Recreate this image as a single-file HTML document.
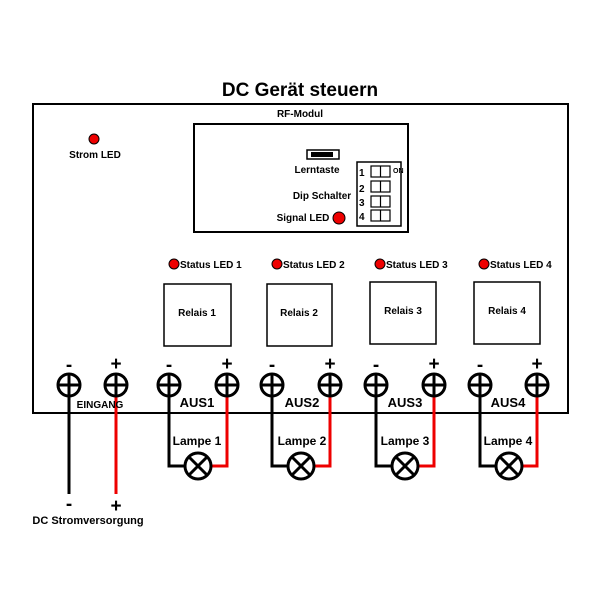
<!DOCTYPE html>
<html><head><meta charset="utf-8"><style>
body{margin:0;background:#fff}
svg text{font-family:"Liberation Sans",Arial,sans-serif;font-weight:bold;fill:#000}
</style></head><body>
<svg width="600" height="600" viewBox="0 0 600 600" xmlns="http://www.w3.org/2000/svg">
<text x="300" y="96" font-size="19" text-anchor="middle">DC Gerät steuern</text>
<rect x="33" y="104" width="535" height="309" fill="none" stroke="#000" stroke-width="2"/>
<circle cx="94" cy="139" r="5" fill="#e00" stroke="#000"/>
<text x="95" y="158" font-size="10" text-anchor="middle">Strom LED</text>
<text x="300" y="117" font-size="10" text-anchor="middle">RF-Modul</text>
<rect x="194" y="124" width="214" height="108" fill="none" stroke="#000" stroke-width="2"/>
<rect x="307" y="150" width="32" height="9" fill="none" stroke="#000" stroke-width="1.5"/>
<rect x="311" y="152" width="22" height="5" fill="#000"/>
<text x="317" y="173" font-size="10" text-anchor="middle">Lerntaste</text>
<text x="322" y="199" font-size="10" text-anchor="middle">Dip Schalter</text>
<text x="303" y="221" font-size="10" text-anchor="middle">Signal LED</text>
<circle cx="339" cy="218" r="6" fill="#e00" stroke="#000"/>
<rect x="357" y="162" width="44" height="64" fill="none" stroke="#000" stroke-width="1.5"/>
<g font-size="10"><text x="359" y="176">1</text><text x="359" y="192">2</text><text x="359" y="206">3</text><text x="359" y="220">4</text><text x="393" y="173" font-size="7">ON</text></g>
<g fill="none" stroke="#000" stroke-width="1.2">
<rect x="371" y="166" width="19" height="11"/><line x1="380.5" y1="166" x2="380.5" y2="177"/>
<rect x="371" y="181" width="19" height="11"/><line x1="380.5" y1="181" x2="380.5" y2="192"/>
<rect x="371" y="196" width="19" height="11"/><line x1="380.5" y1="196" x2="380.5" y2="207"/>
<rect x="371" y="210" width="19" height="11"/><line x1="380.5" y1="210" x2="380.5" y2="221"/>
</g>
<g font-size="10">
<circle cx="174" cy="264" r="5" fill="#e00" stroke="#000"/><text x="180" y="268">Status LED 1</text>
<circle cx="277" cy="264" r="5" fill="#e00" stroke="#000"/><text x="283" y="268">Status LED 2</text>
<circle cx="380" cy="264" r="5" fill="#e00" stroke="#000"/><text x="386" y="268">Status LED 3</text>
<circle cx="484" cy="264" r="5" fill="#e00" stroke="#000"/><text x="490" y="268">Status LED 4</text>
</g>
<g fill="none" stroke="#000" stroke-width="1.5">
<rect x="164" y="284" width="67" height="62"/>
<rect x="267" y="284" width="65" height="62"/>
<rect x="370" y="282" width="66" height="62"/>
<rect x="474" y="282" width="66" height="62"/>
</g>
<g font-size="10" text-anchor="middle">
<text x="197" y="316">Relais 1</text><text x="299" y="316">Relais 2</text>
<text x="403" y="314">Relais 3</text><text x="507" y="314">Relais 4</text>
</g>
<g fill="none" stroke-width="3">
<path d="M69 395 V494" stroke="#000"/>
<path d="M116 395 V494" stroke="#e00"/>
<path d="M169 395 V466 H184" stroke="#000"/><path d="M227 395 V466 H212" stroke="#e00"/>
<path d="M272 395 V466 H287" stroke="#000"/><path d="M330 395 V466 H315" stroke="#e00"/>
<path d="M376 395 V466 H391" stroke="#000"/><path d="M434 395 V466 H419" stroke="#e00"/>
<path d="M480 395 V466 H495" stroke="#000"/><path d="M537 395 V466 H522" stroke="#e00"/>
</g>
<g fill="#fff" stroke="#000" stroke-width="3">
<g id="t"><circle cx="69" cy="385" r="11"/><path d="M58 385 H80 M69 374 V396"/></g>
<use href="#t" x="47"/><use href="#t" x="100"/><use href="#t" x="158"/>
<use href="#t" x="203"/><use href="#t" x="261"/><use href="#t" x="307"/><use href="#t" x="365"/>
<use href="#t" x="411"/><use href="#t" x="468"/>
</g>
<g font-size="19" text-anchor="middle">
<text x="69" y="371">-</text><text x="116" y="370">+</text>
<text x="169" y="371">-</text><text x="227" y="370">+</text>
<text x="272" y="371">-</text><text x="330" y="370">+</text>
<text x="376" y="371">-</text><text x="434" y="370">+</text>
<text x="480" y="371">-</text><text x="537" y="370">+</text>
<text x="69" y="510">-</text><text x="116" y="512">+</text>
</g>
<text x="100" y="408" font-size="10" text-anchor="middle">EINGANG</text>
<g font-size="13" text-anchor="middle">
<text x="197" y="407">AUS1</text><text x="302" y="407">AUS2</text>
<text x="405" y="407">AUS3</text><text x="508" y="407">AUS4</text>
</g>
<g font-size="12" text-anchor="middle">
<text x="197" y="445">Lampe 1</text><text x="302" y="445">Lampe 2</text>
<text x="405" y="445">Lampe 3</text><text x="508" y="445">Lampe 4</text>
</g>
<g fill="#fff" stroke="#000" stroke-width="3">
<g id="l"><circle cx="198" cy="466" r="13"/><path d="M189 457 L207 475 M207 457 L189 475"/></g>
<use href="#l" x="103"/><use href="#l" x="207"/><use href="#l" x="311"/>
</g>
<text x="88" y="524" font-size="11" text-anchor="middle">DC Stromversorgung</text>
</svg>
</body></html>
